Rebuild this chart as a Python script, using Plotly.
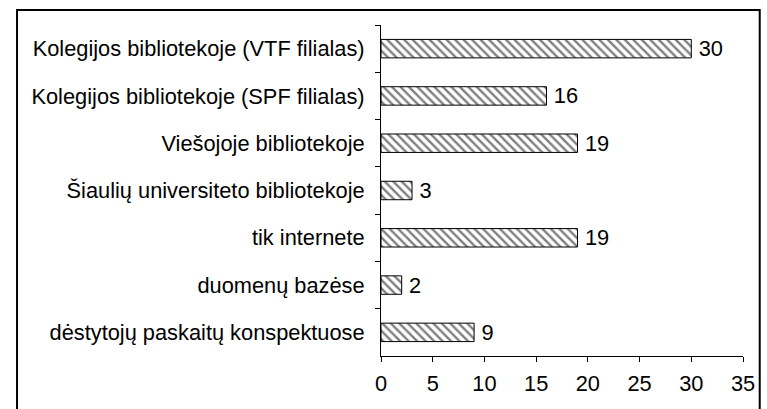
import plotly.graph_objects as go

categories = [
    "Kolegijos bibliotekoje (VTF filialas)",
    "Kolegijos bibliotekoje (SPF filialas)",
    "Viešojoje bibliotekoje",
    "Šiaulių universiteto bibliotekoje",
    "tik internete",
    "duomenų bazėse",
    "dėstytojų paskaitų konspektuose",
]
values = [30, 16, 19, 3, 19, 2, 9]
x_ticks = [0, 5, 10, 15, 20, 25, 30, 35]

W, H = 767, 409
L, R, T, B = 381, 18, 25, 53
pw, ph = W - L - R, H - T - B
FS = 21.8

fig = go.Figure(go.Bar(
    x=values, y=categories, orientation="h",
    marker=dict(color="white", line=dict(color="black", width=1),
                pattern=dict(shape="\\", fgcolor="black", bgcolor="white", size=6, solidity=0.4)),
    text=["\u2009" + str(v) for v in values], textposition="outside",
    constraintext="none",
    textfont=dict(family="Liberation Sans, Arial", size=FS, color="black"),
    cliponaxis=False,
))

def px(xp):
    return (xp - L) / pw

def py(yp):
    return (H - B - yp) / ph

fig.update_layout(
    width=W, height=H,
    margin=dict(l=L, r=R, t=T, b=B),
    paper_bgcolor="white", plot_bgcolor="white",
    bargap=0.61, showlegend=False,
    font=dict(family="Liberation Sans, Arial", size=FS, color="black"),
    xaxis=dict(range=[0, 35], tickvals=x_ticks, showgrid=False, zeroline=False,
               showline=True, linecolor="black", linewidth=1,
               ticks="outside", ticklen=5, tickcolor="black", tickfont=dict(size=FS),
               ticklabelstandoff=3),
    yaxis=dict(autorange="reversed", showgrid=False, showline=True, linecolor="black", linewidth=1,
               ticks="outside", ticklen=5, tickcolor="black", tickson="boundaries",
               tickfont=dict(size=FS), ticklabelstandoff=11),
    shapes=[dict(type="rect", xref="paper", yref="paper",
                 x0=px(11), x1=px(766), y0=py(430), y1=py(10),
                 line=dict(color="black", width=2), fillcolor="rgba(0,0,0,0)", layer="below")],
)

fig.write_html("out.html", config={"displayModeBar": False},
               post_script="document.body.style.margin='0';")
